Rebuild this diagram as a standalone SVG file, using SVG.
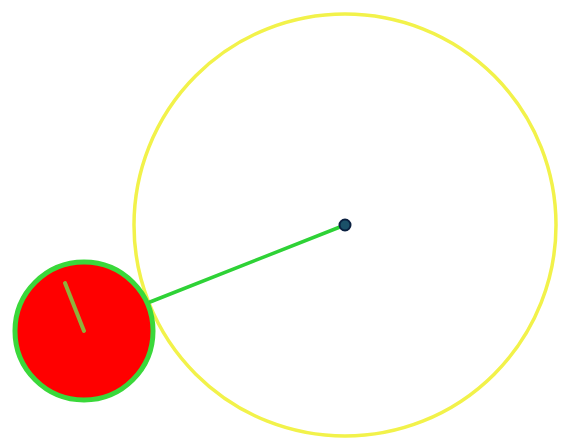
<svg xmlns="http://www.w3.org/2000/svg" width="563" height="442" viewBox="0 0 563 442">
<style>
.orbit{fill:none;stroke:#f2f24a;stroke-width:3.5}
.conn{stroke:#2ed236;stroke-width:3.5;stroke-linecap:round}
</style>
<rect width="563" height="442" fill="#ffffff"/>
<g id="orbit">
<circle class="orbit" cx="345" cy="225" r="211"/>
</g>
<g id="connectors">
<line class="conn" x1="345" y1="225" x2="150" y2="302"/>
</g>
<g id="center">
<circle cx="345" cy="225" r="5.5" fill="#1a5068" stroke="#0a2040" stroke-width="2"/>
</g>
<g id="planet">
<circle cx="84" cy="331" r="69" fill="#ff0000" stroke="#3ad83a" stroke-width="5"/>
<line x1="65" y1="283" x2="84" y2="331" stroke="#8fb13c" stroke-width="4" stroke-linecap="round"/>
</g>
</svg>
